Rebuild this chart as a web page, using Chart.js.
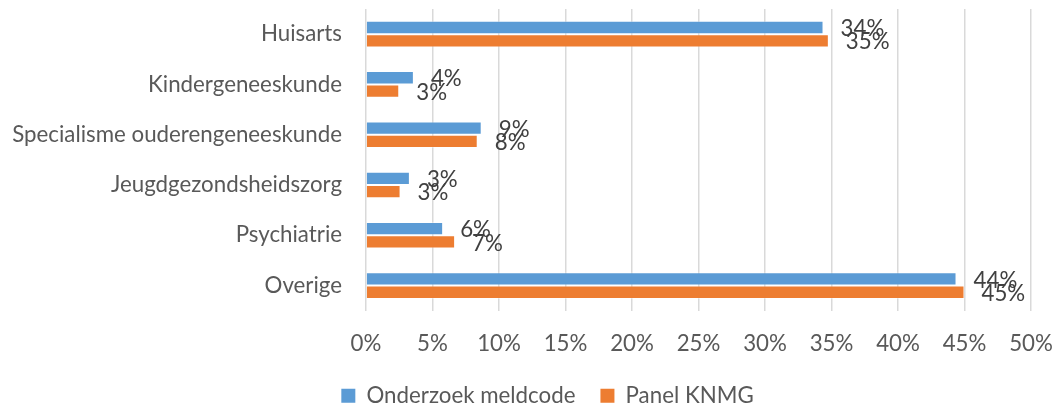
<!DOCTYPE html>
<html>
<head>
<meta charset="utf-8">
<script src="https://cdn.jsdelivr.net/npm/chart.js@4/dist/chart.umd.min.js"></script>
<style>
html,body{margin:0;padding:0;background:#fff;}
#c{display:block;}
</style>
</head>
<body>
<canvas id="c" width="1056" height="406"></canvas>
<script>
const categories = ["Huisarts","Kindergeneeskunde","Specialisme ouderengeneeskunde","Jeugdgezondsheidszorg","Psychiatrie","Overige"];
const seriesNames = ["Onderzoek meldcode","Panel KNMG"];
const onderzoekMeldcode = [34.4, 3.6, 8.7, 3.3, 5.8, 44.4];
const panelKNMG = [34.8, 2.5, 8.4, 2.6, 6.7, 45.0];
const xTicks = [0,5,10,15,20,25,30,35,40,45,50];

const FONT = "Lato";
const TEXT_SIZE = 22.3;
const NUM_SIZE = 22.3;
const labelPlugin = {
  id: 'barLabels',
  afterDatasetsDraw(chart) {
    const ctx = chart.ctx;
    ctx.save();
    ctx.font = NUM_SIZE + "px " + FONT;
    ctx.fillStyle = "#404040";
    ctx.textAlign = "left";
    ctx.textBaseline = "middle";
    chart.data.datasets.forEach((ds, i) => {
      const meta = chart.getDatasetMeta(i);
      meta.data.forEach((el, j) => {
        const v = ds.data[j];
        ctx.fillText(Math.round(v + 1e-9) + "%", el.x + 17, el.y + 1.5);
      });
    });
    ctx.restore();
  }
};
const legendShift = {
  id: 'legendShift',
  afterLayout(chart) {
    if (chart.legend) { chart.legend.left += 32; chart.legend.right += 32; }
  }
};

new Chart(document.getElementById('c'), {
  type: 'bar',
  data: {
    labels: categories,
    datasets: [
      {label: seriesNames[0], data: onderzoekMeldcode, backgroundColor: '#5B9BD5', borderColor: 'rgba(255,255,255,0.35)', borderWidth: 1, categoryPercentage: 0.53, barPercentage: 1.0},
      {label: seriesNames[1], data: panelKNMG, backgroundColor: '#ED7D31', borderColor: 'rgba(255,255,255,0.35)', borderWidth: 1, categoryPercentage: 0.53, barPercentage: 1.0}
    ]
  },
  options: {
    indexAxis: 'y',
    responsive: false,
    animation: false,
    layout: {padding: {top: 9, right: 25, bottom: -11, left: 0}},
    scales: {
      x: {
        min: 0, max: 50,
        afterBuildTicks(scale) { scale.ticks = xTicks.map(v => ({value: v})); },
        afterFit(scale) { scale.height = 49; scale.paddingLeft = 0; scale.paddingRight = 0; },
        grid: {color: '#D9D9D9', lineWidth: 1.5, drawTicks: false},
        border: {display: false},
        ticks: {padding: 20, color: '#595959', font: {family: FONT, size: NUM_SIZE}, callback: v => v + '%'}
      },
      y: {
        afterFit(scale) { scale.width = 366; scale.paddingTop = 0; scale.paddingBottom = 0; },
        grid: {display: false, drawTicks: false},
        border: {display: false},
        ticks: {padding: 24, color: '#595959', font: {family: FONT, size: TEXT_SIZE}}
      }
    },
    plugins: {
      legend: {
        position: 'bottom',
        labels: {
          boxWidth: 14, boxHeight: 14, padding: 25, color: '#595959', font: {family: FONT, size: TEXT_SIZE},
          generateLabels(chart) {
            return chart.data.datasets.map((ds, i) => ({
              text: ds.label, fillStyle: ds.backgroundColor, strokeStyle: ds.backgroundColor,
              lineWidth: 0, hidden: false, datasetIndex: i, fontColor: '#595959'
            }));
          }
        }
      },
      tooltip: {enabled: false}
    }
  },
  plugins: [labelPlugin, legendShift]
});
</script>
</body>
</html>
